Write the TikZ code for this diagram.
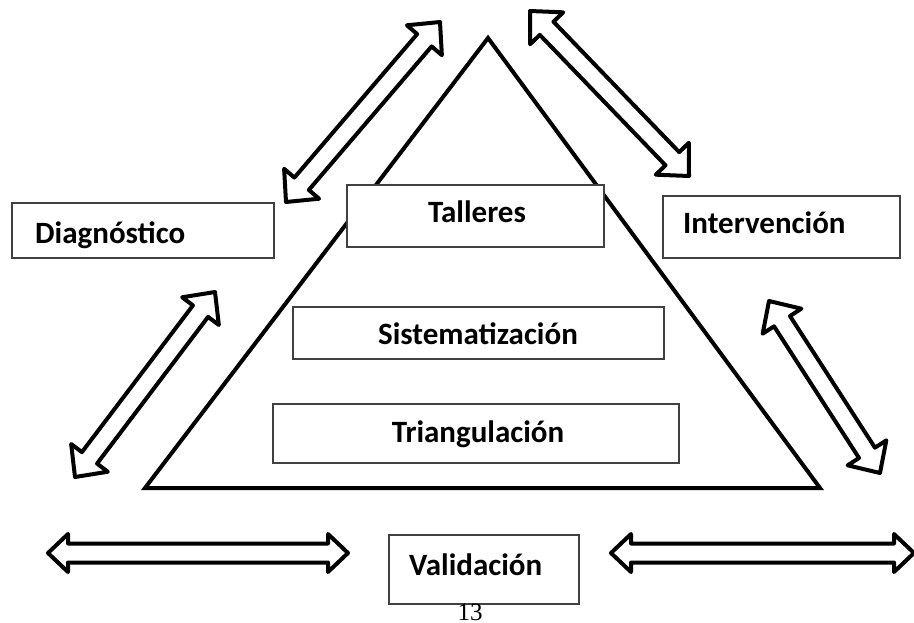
\documentclass[tikz,border=0pt]{standalone}
\usepackage{fontspec}
\setmainfont{Carlito}
\newfontfamily\numfont{Liberation Serif}
\usetikzlibrary{calc}
\definecolor{boxgray}{HTML}{404040}
\newcommand\dblarrow[5]{%
\draw[blockarrow] (#1)
 -- ($(#1)!#3!(#2)!#4!90:(#2)$)
 -- ($(#1)!#3!(#2)!#5!90:(#2)$)
 -- ($(#2)!#3!(#1)!#5!-90:(#1)$)
 -- ($(#2)!#3!(#1)!#4!-90:(#1)$)
 -- (#2)
 -- ($(#2)!#3!(#1)!#4!90:(#1)$)
 -- ($(#2)!#3!(#1)!#5!90:(#1)$)
 -- ($(#1)!#3!(#2)!#5!-90:(#2)$)
 -- ($(#1)!#3!(#2)!#4!-90:(#2)$)
 -- cycle;}
\begin{document}
\begin{tikzpicture}[x=1pt,y=-1pt,
  box/.style={draw=boxgray, line width=1.2pt, fill=white, inner sep=0pt, outer sep=0pt},
  lbl/.style={font=\fontsize{31pt}{36pt}\selectfont\bfseries, inner sep=0pt},
  pagenum/.style={font=\numfont\fontsize{25pt}{30pt}\selectfont, inner sep=0pt},
  tri/.style={draw=black, line width=4pt, line join=miter},
  blockarrow/.style={draw=black, fill=white, line width=4pt, line join=round}]
\useasboundingbox (0,0) rectangle (914,622);
% triangle
\coordinate (apex) at (488,38);
\coordinate (bl) at (145,488);
\coordinate (br) at (820,488);
\draw[tri] (apex) -- (bl) -- (br) -- cycle;
% boxes
\node[box, minimum width=262pt, minimum height=55pt] (diag) at (143,230.5) {};
\node[box, minimum width=257pt, minimum height=62pt] (tall) at (475.5,216) {};
\node[box, minimum width=237pt, minimum height=62pt] (interv) at (781.5,227) {};
\node[box, minimum width=371pt, minimum height=52pt] (sist) at (478.5,333) {};
\node[box, minimum width=406pt, minimum height=59pt] (tria) at (476,433.5) {};
\node[box, minimum width=190pt, minimum height=69pt] (valid) at (484,569.5) {};
% labels
\node[lbl, anchor=base west] (diagt) at (35,243) {Diagnóstico};
\node[lbl, anchor=base] (tallt) at (477,222) {Talleres};
\node[lbl, anchor=base west] (intervt) at (683,233) {Intervención};
\node[lbl, anchor=base] (sistt) at (478,344) {Sistematización};
\node[lbl, anchor=base] (triat) at (478,442) {Triangulación};
\node[lbl, anchor=base west] (validt) at (409,575) {Validación};
\node[pagenum, anchor=base] (pnum) at (470,620) {13};
% arrow end points
\coordinate (d1a) at (286,202); \coordinate (d1b) at (440,22);
\coordinate (d2a) at (530,11);  \coordinate (d2b) at (689,176);
\coordinate (d3a) at (75,477);  \coordinate (d3b) at (215,292);
\coordinate (d4a) at (769,301); \coordinate (d4b) at (880,473);
\coordinate (h1a) at (48,553);  \coordinate (h1b) at (348,553);
\coordinate (h2a) at (611,553); \coordinate (h2b) at (914,553);
\dblarrow{d1a}{d1b}{24pt}{23pt}{9.5pt}
\dblarrow{d2a}{d2b}{24pt}{23pt}{9.5pt}
\dblarrow{d3a}{d3b}{24pt}{23pt}{9.5pt}
\dblarrow{d4a}{d4b}{24pt}{23pt}{9.5pt}
\dblarrow{h1a}{h1b}{20pt}{19pt}{9.5pt}
\dblarrow{h2a}{h2b}{20pt}{19pt}{9.5pt}
\end{tikzpicture}
\end{document}
